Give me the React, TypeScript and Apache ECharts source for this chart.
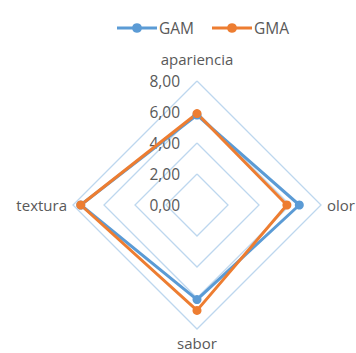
import React, { useEffect, useRef } from "react";
import * as echarts from "echarts";

const indicators = ["apariencia", "textura", "sabor", "olor"];
const maxValue = 8;
const gamValues = [5.8, 7.5, 6.1, 6.6];
const gmaValues = [5.9, 7.5, 6.8, 5.8];
const seriesNames = ["GAM", "GMA"];
const tickValues = [0, 2, 4, 6, 8];

const FONT = "'Open Sans', 'Liberation Sans', sans-serif";
const TEXT = "#595959";
const COLORS = ["#5B9BD5", "#ED7D31"];
const LEGEND_ICON =
  "path://M0,3.6 L15.3,3.6 A5,5 0 0,1 24.7,3.6 L40,3.6 L40,6.4 L24.7,6.4 A5,5 0 0,1 15.3,6.4 L0,6.4 Z";

export default function App() {
  const ref = useRef<HTMLDivElement>(null);
  useEffect(() => {
    if (!ref.current) return;
    const chart = echarts.init(ref.current, undefined, { renderer: "svg" });
    const cx = 197;
    const cy = 205;
    const r = 124;
    chart.setOption({
      animation: false,
      backgroundColor: "#ffffff",
      textStyle: { fontFamily: FONT },
      legend: {
        top: 15,
        left: 112,
        itemWidth: 40,
        itemHeight: 10,
        itemGap: 18,
        icon: LEGEND_ICON,
        textStyle: { color: TEXT, fontSize: 15.5, fontFamily: FONT, padding: [0, 0, 0, -3] },
        data: seriesNames,
      },
      grid: { left: cx - 16, top: cy - r, height: r, width: 10 },
      xAxis: { type: "value", show: false },
      yAxis: {
        type: "value",
        min: tickValues[0],
        max: tickValues[tickValues.length - 1],
        interval: 2,
        axisLine: { show: false },
        axisTick: { show: false },
        splitLine: { show: false },
        axisLabel: {
          color: TEXT,
          fontSize: 15.5,
          fontFamily: FONT,
          margin: 1,
          formatter: (v: number) => v.toFixed(2).replace(".", ","),
        },
      },
      radar: {
        center: [cx, cy],
        radius: r,
        shape: "polygon",
        splitNumber: 4,
        startAngle: 90,
        indicator: indicators.map((n) => ({ name: n, max: maxValue, min: 0 })),
        axisName: {
          color: TEXT,
          fontSize: 15,
          fontFamily: FONT,
          formatter: (name: string) => (name === indicators[0] ? `{top|${name}}` : name),
          rich: {
            top: { color: TEXT, fontSize: 15, fontFamily: FONT, padding: [0, 0, 9, 0] },
          },
        },
        nameGap: 6,
        axisLine: { show: false },
        axisTick: { show: false },
        splitArea: { show: false },
        splitLine: { lineStyle: { color: "#BDD7EE", width: 1.3 } },
      },
      series: [
        {
          type: "radar",
          symbol: "circle",
          symbolSize: 9,
          data: [
            {
              name: seriesNames[0],
              value: gamValues,
              itemStyle: { color: COLORS[0] },
              lineStyle: { color: COLORS[0], width: 3 },
            },
            {
              name: seriesNames[1],
              value: gmaValues,
              itemStyle: { color: COLORS[1] },
              lineStyle: { color: COLORS[1], width: 3 },
            },
          ],
        },
      ],
    });
    return () => chart.dispose();
  }, []);
  return (
    <div
      ref={ref}
      style={{ position: "fixed", left: 0, top: 0, width: 356, height: 353 }}
    />
  );
}
